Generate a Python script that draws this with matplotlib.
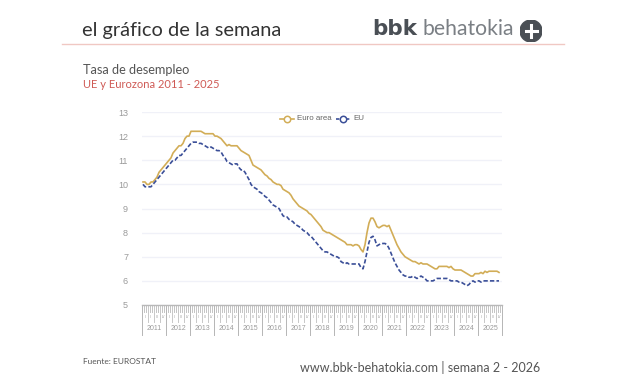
import matplotlib
matplotlib.use("Agg")
import matplotlib.pyplot as plt
import numpy as np
from matplotlib.patches import Circle

W, H = 627, 376

years = list(range(2011, 2026))
quarters = ["I", "II", "III", "IV"]
y_ticks = [5, 6, 7, 8, 9, 10, 11, 12, 13]

euro_area = [
    10.1, 10.1, 10.0, 10.0, 10.1, 10.1, 10.2, 10.3, 10.5, 10.6, 10.7, 10.8,
    10.9, 11.0, 11.1, 11.3, 11.4, 11.5, 11.6, 11.6, 11.7, 11.9, 12.0, 12.0,
    12.2, 12.2, 12.2, 12.2, 12.2, 12.2, 12.15, 12.1, 12.1, 12.1, 12.1, 12.1,
    12.0, 12.0, 11.95, 11.9, 11.8, 11.7, 11.6, 11.65, 11.6, 11.6, 11.6, 11.6,
    11.5, 11.4, 11.35, 11.3, 11.25, 11.2, 11.0, 10.8, 10.75, 10.7, 10.65, 10.6,
    10.5, 10.4, 10.35, 10.25, 10.2, 10.1, 10.05, 10.0, 10.0, 9.95, 9.8, 9.75,
    9.7, 9.65, 9.55, 9.4, 9.3, 9.2, 9.1, 9.05, 9.0, 8.95, 8.9, 8.8,
    8.75, 8.65, 8.55, 8.45, 8.35, 8.25, 8.1, 8.05, 8.0, 8.0, 7.95, 7.9,
    7.85, 7.8, 7.75, 7.7, 7.65, 7.6, 7.5, 7.5, 7.5, 7.45, 7.5, 7.5,
    7.45, 7.3, 7.2, 7.5, 8.0, 8.4, 8.6, 8.6, 8.45, 8.25, 8.2, 8.25,
    8.3, 8.3, 8.25, 8.3, 8.1, 7.9, 7.7, 7.5, 7.35, 7.2, 7.1, 7.0,
    6.95, 6.9, 6.85, 6.8, 6.8, 6.75, 6.7, 6.75, 6.7, 6.7, 6.7, 6.65,
    6.6, 6.55, 6.5, 6.5, 6.6, 6.6, 6.6, 6.6, 6.6, 6.55, 6.6, 6.5,
    6.45, 6.45, 6.45, 6.45, 6.4, 6.35, 6.3, 6.25, 6.2, 6.2, 6.3, 6.3,
    6.3, 6.35, 6.3, 6.4, 6.35, 6.4, 6.4, 6.4, 6.4, 6.4, 6.35,
]

eu = [
    10.0, 9.9, 9.9, 9.9, 9.9, 10.0, 10.1, 10.2, 10.3, 10.4, 10.5, 10.6,
    10.7, 10.8, 10.9, 11.0, 11.0, 11.1, 11.2, 11.2, 11.3, 11.4, 11.5, 11.6,
    11.7, 11.75, 11.75, 11.75, 11.7, 11.7, 11.65, 11.6, 11.55, 11.5, 11.55, 11.5,
    11.45, 11.4, 11.4, 11.35, 11.2, 11.1, 10.95, 10.9, 10.85, 10.8, 10.85, 10.85,
    10.7, 10.6, 10.6, 10.5, 10.35, 10.2, 10.0, 9.9, 9.85, 9.8, 9.7, 9.65,
    9.6, 9.5, 9.45, 9.35, 9.25, 9.15, 9.1, 9.05, 9.0, 8.85, 8.7, 8.65,
    8.65, 8.55, 8.5, 8.45, 8.35, 8.3, 8.25, 8.2, 8.1, 8.05, 8.0, 7.9,
    7.85, 7.75, 7.65, 7.55, 7.45, 7.35, 7.25, 7.2, 7.2, 7.15, 7.1, 7.05,
    7.0, 7.0, 6.95, 6.8, 6.75, 6.7, 6.75, 6.7, 6.7, 6.7, 6.7, 6.7,
    6.7, 6.55, 6.5, 6.8, 7.2, 7.6, 7.8, 7.85, 7.7, 7.45, 7.5, 7.55,
    7.55, 7.55, 7.5, 7.35, 7.15, 6.95, 6.75, 6.6, 6.45, 6.35, 6.25, 6.2,
    6.2, 6.15, 6.15, 6.2, 6.15, 6.1, 6.15, 6.2, 6.15, 6.1, 6.0, 6.0,
    6.0, 6.0, 6.05, 6.1, 6.1, 6.1, 6.1, 6.1, 6.1, 6.05, 6.0, 6.0,
    6.0, 6.0, 5.95, 5.95, 5.9, 5.85, 5.8, 5.85, 5.95, 6.0, 5.95, 6.0,
    6.0, 5.95, 6.0, 6.0, 6.0, 6.0, 6.0, 6.0, 6.0, 6.0, 6.0,
]

GOLD = "#d2ad57"
NAVY = "#3b4f98"
GREY = "#9a9a9a"
RED = "#cf5a55"
DARK = "#4a4f55"
CHART_FONT = "Liberation Sans"


def px(x, y):
    # pixel position in the picture -> figure fraction
    return x / W, 1 - y / H


plt.rcParams["font.family"] = ["Lato", "DejaVu Sans"]

fig = plt.figure(figsize=(W / 100, H / 100), dpi=100)
ax = fig.add_axes([142 / W, 1 - 305 / H, 360 / W, 193 / H])

months = np.arange(len(euro_area)) + 0.5
ax.plot(months, euro_area, color=GOLD, lw=1.2, zorder=3)
ax.plot(months, eu, color=NAVY, lw=1.2, ls=(0, (2.6, 1.3)), zorder=3)

ax.set_xlim(0, 180)
ax.set_ylim(5, 13)
ax.set_yticks(y_ticks)
ax.tick_params(axis="y", length=0, labelsize=6.5, labelcolor=GREY, pad=10)
for lab in ax.get_yticklabels():
    lab.set_family(CHART_FONT)
ax.grid(axis="y", color="#f0f1f8", lw=1)
ax.set_axisbelow(True)
for s in ["top", "right", "left"]:
    ax.spines[s].set_visible(False)
ax.spines["bottom"].set_color("#b8b8b8")
ax.spines["bottom"].set_linewidth(1)

# three level time axis under the plot: months, quarters, years
ax.set_xticks([])
trans = ax.get_xaxis_transform()
for m in range(181):
    if m % 12 == 0:
        bottom, col = -30 / 193, "#b5b5b5"
    elif m % 3 == 0:
        bottom, col = -17 / 193, "#c8c8c8"
    else:
        bottom, col = -7 / 193, "#c4c4c4"
    ax.plot([m, m], [0, bottom], transform=trans, color=col, lw=0.7, clip_on=False)
for i, year in enumerate(years):
    ax.text(i * 12 + 6, -23.5 / 193, str(year), transform=trans, ha="center", va="center",
            fontsize=5, color=GREY, family=CHART_FONT)
    for q, label in enumerate(quarters):
        ax.text(i * 12 + q * 3 + 1.5, -12 / 193, label, transform=trans, ha="center", va="center",
                fontsize=2.6, color=GREY, family=CHART_FONT)

# legend sits inside the plot near the top
leg_y = 12.73
ax.plot([69, 76], [leg_y, leg_y], color=GOLD, lw=1.2)
ax.plot([72.5], [leg_y], "o", ms=4.6, mfc="white", mec=GOLD, mew=1.1, zorder=4)
ax.text(77.5, leg_y, "Euro area", fontsize=5.7, color="#666666", va="center", family=CHART_FONT)
ax.plot([97, 104], [leg_y, leg_y], color=NAVY, lw=1.2, ls=(0, (2, 1)))
ax.plot([100.5], [leg_y], "o", ms=4.6, mfc="white", mec=NAVY, mew=1.1, zorder=4)
ax.text(105.5, leg_y, "EU", fontsize=5.7, color="#666666", va="center", family=CHART_FONT)

# page furniture
fig.add_artist(plt.Line2D([62 / W, 564 / W], [1 - 43.5 / H] * 2, color="#f0c8c3", lw=1))
fig.text(*px(82, 36), "el gráfico de la semana", fontsize=14.4, color="#333333", va="baseline")
fig.text(*px(372.5, 35), "bbk", fontsize=15.5, color=DARK, va="baseline", fontweight="bold", family="DejaVu Sans")
fig.text(*px(422, 35), "behatokia", fontsize=15.2, color="#7a7f84", va="baseline")
logo = fig.add_axes([520 / W, 1 - 42 / H, 22 / W, 22 / H])
logo.set_xlim(-1, 1)
logo.set_ylim(-1, 1)
logo.axis("off")
logo.add_patch(Circle((0, 0), 1, color=DARK))
logo.plot([-0.5, 0.5], [0, 0], color="white", lw=2.2)
logo.plot([0, 0], [-0.5, 0.5], color="white", lw=2.2)

fig.text(*px(83, 70), "Tasa de desempleo", fontsize=9.2, color="#555555", va="center")
fig.text(*px(83, 84), "UE y Eurozona 2011 - 2025", fontsize=8, color=RED, va="center")
fig.text(*px(83, 361), "Fuente: EUROSTAT", fontsize=6, color="#555555", va="center")
fig.text(*px(300, 367.5), "www.bbk-behatokia.com | semana 2 - 2026", fontsize=9, color="#555555", va="center")

fig.savefig("out.png", dpi=100)
